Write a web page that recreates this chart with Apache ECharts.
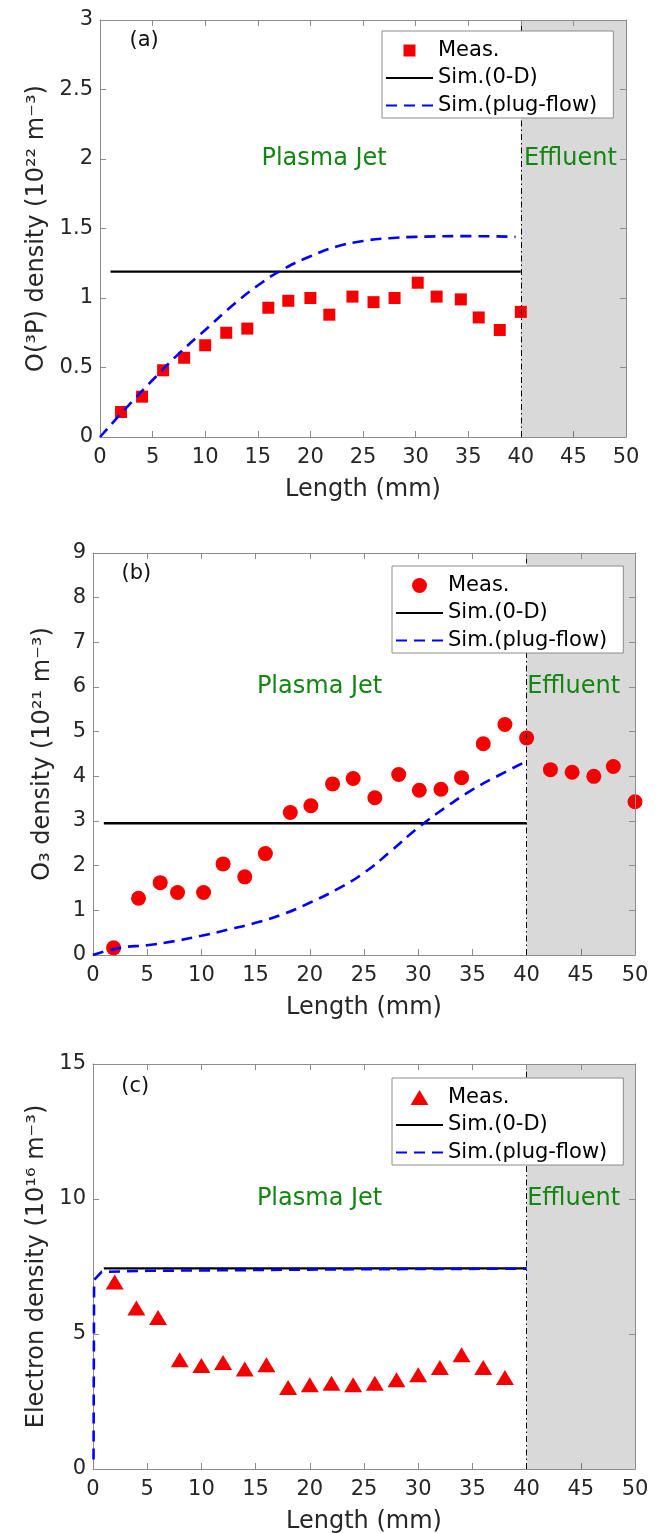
<!DOCTYPE html>
<html>
<head>
<meta charset="utf-8">
<title>Species densities along the plasma jet</title>
<script src="https://cdn.jsdelivr.net/npm/echarts@6/dist/echarts.min.js"></script>
<style>
  html, body { margin: 0; padding: 0; background: #ffffff; }
  #chart { width: 662px; height: 1533px; }
</style>
</head>
<body>
<div id="chart"></div>
<script>
// ---- (a) atomic oxygen O(3P), 10^22 m^-3 ----
const measLenA = [2, 4, 6, 8, 10, 12, 14, 16, 17.9, 20, 21.8, 24, 26, 28, 30.2, 32, 34.3, 36, 38, 40];
const measO3P  = [0.18, 0.29, 0.48, 0.57, 0.66, 0.75, 0.78, 0.93, 0.98, 1.00, 0.88, 1.01, 0.97, 1.00, 1.11, 1.01, 0.99, 0.86, 0.77, 0.90];
const plugLenA = [0, 2.5, 5, 7.5, 10, 12.5, 15, 17.5, 20, 22.5, 25, 27.5, 30, 35, 39.5];
const plugO3P  = [0, 0.21, 0.41, 0.60, 0.77, 0.94, 1.09, 1.21, 1.30, 1.37, 1.41, 1.43, 1.44, 1.445, 1.44];
const zeroDLenA = [1, 40];
const zeroDO3P  = [1.19, 1.19];

// ---- (b) ozone O3, 10^21 m^-3 ----
const measLenB = [1.9, 4.2, 6.2, 7.8, 10.2, 12, 14, 15.9, 18.2, 20.1, 22.1, 24, 26, 28.2, 30.1, 32.1, 34, 36, 38, 40, 42.2, 44.2, 46.2, 48, 50];
const measO3   = [0.16, 1.27, 1.62, 1.40, 1.40, 2.04, 1.75, 2.27, 3.19, 3.34, 3.83, 3.95, 3.52, 4.04, 3.69, 3.71, 3.97, 4.73, 5.16, 4.86, 4.15, 4.09, 4.00, 4.22, 3.43];
const plugLenB = [0, 2.5, 5, 7.5, 10, 12.5, 15, 17.5, 20, 22.5, 25, 27.5, 30, 32.5, 35, 37.5, 40];
const plugO3   = [0, 0.16, 0.22, 0.31, 0.43, 0.57, 0.72, 0.91, 1.17, 1.47, 1.84, 2.33, 2.85, 3.30, 3.70, 4.03, 4.34];
const zeroDLenB = [1, 40];
const zeroDO3   = [2.95, 2.95];

// ---- (c) electrons, 10^16 m^-3 ----
const measLenC = [2, 4, 6, 8, 10, 12, 14, 16, 18, 20, 22, 24, 26, 28, 30, 32, 34, 36, 38];
const measNe   = [6.93, 5.96, 5.61, 4.05, 3.83, 3.94, 3.70, 3.86, 3.02, 3.12, 3.18, 3.12, 3.18, 3.31, 3.49, 3.76, 4.23, 3.76, 3.39];
const plugLenC = [0.05, 0.1, 0.8, 5, 15, 25, 40];
const plugNe   = [0.35, 7.0, 7.3, 7.34, 7.37, 7.40, 7.42];
const zeroDLenC = [1, 40];
const zeroDNe   = [7.43, 7.43];

// axis ranges
const xRange = [0, 50, 5];
const yRanges = [[0, 3, 0.5], [0, 9, 1], [0, 15, 5]];
const yTitles = [
  'O(\u00B3P) density (10\u00B2\u00B2 m\u207B\u00B3)',
  'O\u2083 density (10\u00B2\u00B9 m\u207B\u00B3)',
  'Electron density (10\u00B9\u2076 m\u207B\u00B3)'
];
const xTitle = 'Length (mm)';
const panelTags = ['(a)', '(b)', '(c)'];
const legendNames = ['Meas.', 'Sim.(0-D)', 'Sim.(plug-flow)'];
const regionNames = ['Plasma Jet', 'Effluent'];
const jetEnd = 40;

const FONT = 'DejaVu Sans';
const AXIS = '#8c8c8c';
const INK = '#262626';
const RED = '#f40000';
const GREEN = '#138513';

const zip = (xs, ys) => xs.map((x, k) => [x, ys[k]]);

const panels = [
  { meas: zip(measLenA, measO3P), plug: zip(plugLenA, plugO3P), zeroD: zip(zeroDLenA, zeroDO3P),
    symbol: 'rect', size: 12, smooth: true,
    grid: { left: 100, top: 20, width: 526, height: 417 }, nameGap: 46,
    legend: { left: 382, top: 31, itemHeight: 12, icon: 'path://M0,0H10V10H0Z' },
    tag: [4.2, 2.85], jet: [21.3, 2.0], eff: [40.3, 2.0] },
  { meas: zip(measLenB, measO3), plug: zip(plugLenB, plugO3), zeroD: zip(zeroDLenB, zeroDO3),
    symbol: 'circle', size: 15, smooth: true,
    grid: { left: 93, top: 553, width: 542, height: 402 }, nameGap: 38,
    legend: { left: 392, top: 566, itemHeight: 15, icon: 'path://M10,5A5,5,0,1,1,0,5A5,5,0,1,1,10,5Z' },
    tag: [4.0, 8.55], jet: [20.9, 6.0], eff: [40.05, 6.0] },
  { meas: zip(measLenC, measNe), plug: zip(plugLenC, plugNe), zeroD: zip(zeroDLenC, zeroDNe),
    symbol: 'triangle', size: [18, 15], smooth: false,
    grid: { left: 93, top: 1064, width: 542, height: 405 }, nameGap: 43,
    legend: { left: 392, top: 1078, itemHeight: 15, icon: 'path://M6,0L12,10H0Z' },
    tag: [3.9, 14.17], jet: [20.9, 10.0], eff: [40.05, 10.0] }
];

const grids = [], xAxes = [], yAxes = [], series = [], legends = [];

const plainLabel = (text, color, size, position) => ({
  show: true, position: position, distance: 0, formatter: text,
  color: color, fontSize: size, fontFamily: FONT,
  textBorderWidth: 0, textBorderColor: 'transparent', textShadowBlur: 0, opacity: 1
});

panels.forEach((p, i) => {
  grids.push(Object.assign({ outerBoundsMode: 'none', containLabel: false }, p.grid));

  const tick = { inside: true, length: 6, lineStyle: { color: AXIS, width: 1 } };
  const line = { show: true, onZero: false, lineStyle: { color: AXIS, width: 1 } };

  xAxes.push({
    type: 'value', gridIndex: i, position: 'bottom', min: xRange[0], max: xRange[1], interval: xRange[2],
    axisLine: line, axisTick: tick, splitLine: { show: false },
    axisLabel: { color: INK, fontSize: 21, fontFamily: FONT, margin: 10 },
    name: xTitle, nameLocation: 'middle', nameGap: 41,
    nameTextStyle: { color: INK, fontSize: 24, fontFamily: FONT }
  });
  xAxes.push({
    type: 'value', gridIndex: i, position: 'top', min: xRange[0], max: xRange[1], interval: xRange[2],
    axisLine: line, axisTick: tick, splitLine: { show: false }, axisLabel: { show: false }, z: 5
  });

  const [ymin, ymax, ystep] = yRanges[i];
  yAxes.push({
    type: 'value', gridIndex: i, position: 'left', min: ymin, max: ymax, interval: ystep,
    axisLine: line, axisTick: tick, splitLine: { show: false },
    axisLabel: { color: INK, fontSize: 21, fontFamily: FONT, margin: 7 },
    name: yTitles[i], nameLocation: 'middle', nameGap: p.nameGap,
    nameTextStyle: { color: INK, fontSize: 24, fontFamily: FONT }
  });
  yAxes.push({
    type: 'value', gridIndex: i, position: 'right', min: ymin, max: ymax, interval: ystep,
    axisLine: line, axisTick: tick, splitLine: { show: false }, axisLabel: { show: false }, z: 5
  });

  const xi = 2 * i, yi = 2 * i;

  series.push({
    type: 'scatter', name: legendNames[0], xAxisIndex: xi, yAxisIndex: yi,
    symbol: p.symbol, symbolSize: p.size, itemStyle: { color: RED, opacity: 1 },
    data: p.meas, z: 2, silent: true
  });
  series.push({
    type: 'line', name: legendNames[1], xAxisIndex: xi, yAxisIndex: yi,
    symbol: 'none', showSymbol: false, data: p.zeroD,
    lineStyle: { color: '#000000', width: 2.4 }, itemStyle: { color: '#000000' }, z: 3, silent: true
  });
  series.push({
    type: 'line', name: legendNames[2], xAxisIndex: xi, yAxisIndex: yi,
    symbol: 'none', showSymbol: false, smooth: p.smooth, data: p.plug,
    lineStyle: { color: '#0000ff', width: 2.6, type: [11, 7] }, itemStyle: { color: '#0000ff' }, z: 3, silent: true
  });
  // shaded effluent region and the jet-exit boundary
  series.push({
    type: 'scatter', xAxisIndex: xi, yAxisIndex: yi, data: [], silent: true, z: 3,
    markArea: {
      silent: true,
      itemStyle: { color: 'rgba(0,0,0,0.15)' },
      data: [[{ xAxis: jetEnd }, { xAxis: xRange[1] }]]
    },
    markLine: {
      silent: true, symbol: ['none', 'none'], label: { show: false },
      lineStyle: { color: '#000000', width: 1, type: [6, 3, 1.5, 3] },
      data: [{ xAxis: jetEnd }]
    }
  });
  // panel tag and region names
  series.push({
    type: 'scatter', xAxisIndex: xi, yAxisIndex: yi, symbolSize: 0, silent: true, z: 6,
    itemStyle: { color: 'transparent' },
    data: [
      { value: p.tag, label: plainLabel(panelTags[i], '#111111', 21, 'inside') },
      { value: p.jet, label: plainLabel(regionNames[0], GREEN, 24, 'inside') },
      { value: p.eff, label: plainLabel(regionNames[1], GREEN, 24, 'right') }
    ]
  });

  const hiddenMarker = { color: 'rgba(0,0,0,0)', opacity: 0, borderWidth: 0 };
  legends.push({
    orient: 'vertical', left: p.legend.left, top: p.legend.top,
    data: [
      { name: legendNames[0], icon: p.legend.icon },
      { name: legendNames[1], itemStyle: hiddenMarker },
      { name: legendNames[2], itemStyle: hiddenMarker }
    ],
    itemWidth: 47, itemHeight: p.legend.itemHeight, itemGap: 6.5,
    padding: [9, 16, 2, 3],
    backgroundColor: '#ffffff', borderColor: AXIS, borderWidth: 1, borderRadius: 0,
    selectedMode: false, z: 8,
    textStyle: { color: '#000000', fontSize: 21, fontFamily: FONT }
  });
});

const chart = echarts.init(document.getElementById('chart'), null, { renderer: 'canvas' });
chart.setOption({
  animation: false,
  backgroundColor: '#ffffff',
  textStyle: { fontFamily: FONT },
  grid: grids,
  xAxis: xAxes,
  yAxis: yAxes,
  legend: legends,
  series: series
});
</script>
</body>
</html>
